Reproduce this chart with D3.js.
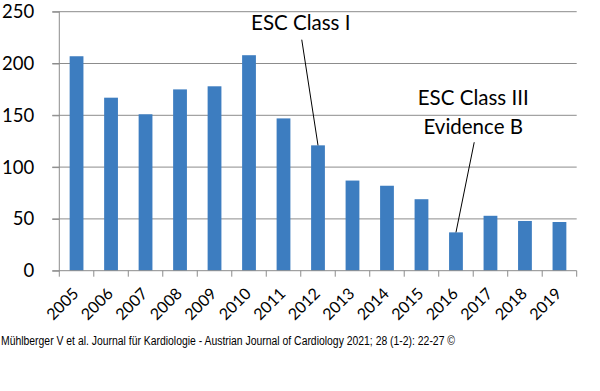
<!DOCTYPE html>
<html>
<head>
<meta charset="utf-8">
<script src="https://cdn.jsdelivr.net/npm/d3@7"></script>
<style>
  body { margin: 0; background: #fff; }
  svg { display: block; }
</style>
</head>
<body>
<svg id="chart" width="600" height="391"></svg>
<script>
// chart data
var years = ['2005', '2006', '2007', '2008', '2009', '2010', '2011', '2012',
             '2013', '2014', '2015', '2016', '2017', '2018', '2019'];
var counts = [207, 167, 151, 175, 178, 208, 147, 121, 87, 82, 69, 37, 53, 48, 47];
var yTicks = [0, 50, 100, 150, 200, 250];

// annotation labels: text lines, text anchor between two years, line from/to
var noteLines = [['ESC Class I'], ['ESC Class III', 'Evidence B']];
var noteBetween = [['2011', '2012'], ['2016', '2017']];
var noteTextValue = [232, 160];
var noteLineFrom = [223, 124];
var noteTarget = ['2012', '2016'];
var noteTargetValue = [121, 37];

var footer = 'Mühlberger V et al. Journal für Kardiologie - Austrian Journal of Cardiology 2021; 28 (1-2): 22-27 ©';

var svg = d3.select('#chart');
var padding = {t: 11.7, r: 23.3, b: 120.3, l: 59.3};
var chartWidth = 600 - padding.l - padding.r;
var chartHeight = 391 - padding.t - padding.b;

var chartG = svg.append('g')
    .attr('transform', 'translate(' + [padding.l, padding.t] + ')');

var xScale = d3.scaleBand()
    .domain(years)
    .range([0, chartWidth])
    .paddingInner(0.6)
    .paddingOuter(0.3);

var yScale = d3.scaleLinear()
    .domain([0, 250])
    .range([chartHeight, 0]);

function center(yr) {
    return xScale(yr) + xScale.bandwidth() / 2;
}

// gridlines
chartG.append('g')
    .selectAll('line')
    .data(yTicks.slice(1))
    .enter().append('line')
    .attr('x1', -7)
    .attr('x2', chartWidth)
    .attr('y1', function(d) { return yScale(d); })
    .attr('y2', function(d) { return yScale(d); })
    .attr('stroke', '#8c8c8c')
    .attr('stroke-width', 1);

// bars
chartG.selectAll('.bar')
    .data(counts)
    .enter().append('rect')
    .attr('class', 'bar')
    .attr('x', function(d, i) { return xScale(years[i]); })
    .attr('y', function(d) { return yScale(d); })
    .attr('width', xScale.bandwidth())
    .attr('height', function(d) { return chartHeight - yScale(d); })
    .attr('fill', '#3d7dc0');

// y axis
var yAxis = d3.axisLeft(yScale)
    .tickValues(yTicks)
    .tickSize(7)
    .tickPadding(18);

var yAxisG = chartG.append('g').call(yAxis);
yAxisG.select('.domain').remove();
yAxisG.append('line')
    .attr('y1', 0).attr('y2', chartHeight)
    .attr('stroke', '#8c8c8c');
yAxisG.selectAll('.tick line').attr('stroke', '#8c8c8c');
yAxisG.selectAll('text')
    .attr('font-family', 'Lato, sans-serif')
    .attr('font-size', '18.5px')
    .attr('fill', '#000');

// x axis: ticks at band boundaries
var step = xScale.step();
var xAxisG = chartG.append('g')
    .attr('transform', 'translate(0,' + chartHeight + ')');
xAxisG.append('line')
    .attr('x1', -7).attr('x2', chartWidth)
    .attr('stroke', '#8c8c8c');
xAxisG.selectAll('.xtick')
    .data(d3.range(years.length + 1))
    .enter().append('line')
    .attr('class', 'xtick')
    .attr('x1', function(d) { return d * step; })
    .attr('x2', function(d) { return d * step; })
    .attr('y1', 0).attr('y2', 6)
    .attr('stroke', '#8c8c8c');
xAxisG.selectAll('.xlabel')
    .data(years)
    .enter().append('text')
    .attr('class', 'xlabel')
    .attr('transform', function(d) {
        return 'translate(' + (center(d) + 3) + ',' + 24 + ') rotate(-45)';
    })
    .attr('text-anchor', 'end')
    .attr('font-family', 'Lato, sans-serif')
    .attr('font-size', '16px')
    .attr('fill', '#000')
    .text(function(d) { return d; });

// annotations
noteLines.forEach(function(lines, i) {
    var cx = (center(noteBetween[i][0]) + center(noteBetween[i][1])) / 2;
    var t = chartG.append('text')
        .attr('x', cx)
        .attr('y', yScale(noteTextValue[i]))
        .attr('text-anchor', 'middle')
        .attr('font-family', 'Lato, sans-serif')
        .attr('font-size', '20.5px')
        .attr('fill', '#000');
    lines.forEach(function(line, j) {
        t.append('tspan')
            .attr('x', cx)
            .attr('dy', j === 0 ? 0 : 29.5)
            .text(line);
    });
    chartG.append('line')
        .attr('x1', cx + 1)
        .attr('y1', yScale(noteLineFrom[i]))
        .attr('x2', center(noteTarget[i]))
        .attr('y2', yScale(noteTargetValue[i]))
        .attr('stroke', '#000')
        .attr('stroke-width', 1);
});

// source line
svg.append('text')
    .attr('x', 1)
    .attr('y', 345)
    .attr('font-family', 'Liberation Sans, Arial, sans-serif')
    .attr('font-size', '12.5px')
    .attr('textLength', 454)
    .attr('lengthAdjust', 'spacingAndGlyphs')
    .attr('fill', '#000')
    .text(footer);
</script>
</body>
</html>
